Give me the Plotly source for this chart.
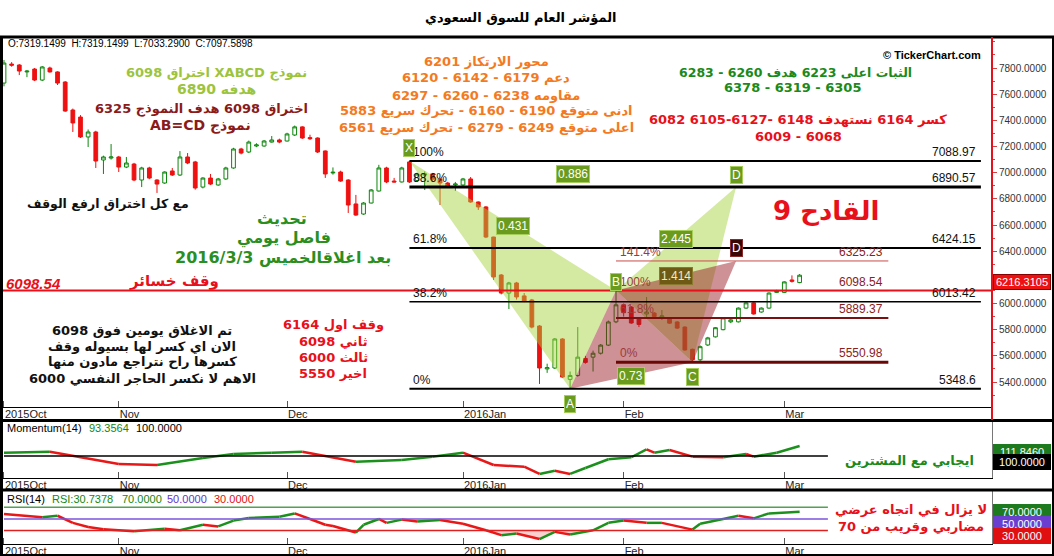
import plotly.graph_objects as go
import pandas as pd

# ---------------- data ----------------
TITLE = "المؤشر العام للسوق السعودي"
trade_dates = pd.bdate_range("2015-10-11", "2016-03-03", freq="C",
                             weekmask="Sun Mon Tue Wed Thu")
month_labels = ["2015Oct", "Nov", "Dec", "2016Jan", "Feb", "Mar"]

opens = [7685, 7830, 7823, 7770, 7792, 7708, 7800, 7770, 7693, 7479,
         7425, 7273, 7311, 7097, 7112, 7120, 7043, 7066, 6944, 7036,
         6944, 6921, 7013, 6982, 7120, 7082, 6890, 6959, 6906, 6952,
         7036, 7181, 7158, 7204, 7204, 7234, 7250, 7242, 7288, 7350,
         7268, 7265, 7166, 6998, 7005, 6944, 6761, 6684, 6768, 6860,
         7036, 6936, 6929, 7082, 6940, 6982, 6990, 6950, 6921, 6906,
         6906, 6952, 6776, 6738, 6508, 6218, 6080, 6157, 6058, 6027,
         5828, 5500, 5507, 5729, 5420, 5450, 5580, 5590, 5620, 5682,
         5860, 5990, 5973, 5890, 5920, 5927, 5897, 5890, 5859, 5820,
         5650, 5570, 5683, 5745, 5800, 5860, 5860, 5965, 6005, 5935,
         5965, 6085, 6085, 6180, 6160]
highs = [7861, 7845, 7830, 7785, 7800, 7815, 7810, 7775, 7700, 7490,
         7440, 7330, 7320, 7130, 7219, 7128, 7120, 7075, 7045, 7045,
         6950, 7010, 7036, 7165, 7150, 7090, 6965, 6990, 6960, 7045,
         7190, 7190, 7245, 7225, 7250, 7280, 7260, 7305, 7360, 7355,
         7290, 7270, 7170, 7040, 7015, 6950, 6830, 6775, 6875, 7060,
         7045, 6960, 7045, 7088.97, 7000, 7010, 6998, 6960, 6930, 6929,
         6960, 6967, 6780, 6745, 6510, 6225, 6165, 6165, 6080, 6035,
         5835, 5540, 5735, 5735, 5480, 5820, 5600, 5640, 5690, 5870,
         6098.54, 6000, 5980, 5895, 6050, 5935, 5950, 5895, 5865, 5825,
         5655, 5680, 5745, 5820, 5895, 5885, 5970, 6010, 6010, 5970,
         6085, 6105, 6170, 6215, 6225]
lows = [7660, 7810, 7746, 7730, 7700, 7700, 7765, 7670, 7465, 7311,
        7265, 7196, 7036, 6990, 7100, 7005, 7035, 6935, 6890, 6950,
        6845, 6915, 6975, 6975, 7065, 6870, 6880, 6905, 6900, 6945,
        7030, 7140, 7150, 7195, 7198, 7230, 7225, 7238, 7280, 7258,
        7250, 7150, 6960, 6985, 6930, 6692, 6670, 6678, 6765, 6855,
        6920, 6925, 6925, 6921, 6930, 6868, 6930, 6753, 6890, 6860,
        6900, 6770, 6715, 6500, 6180, 6070, 5958, 6030, 6010, 5810,
        5385, 5470, 5500, 5430, 5348.6, 5440, 5540, 5480, 5610, 5675,
        5850, 5900, 5845, 5820, 5897, 5895, 5874, 5845, 5805, 5640,
        5550.98, 5555, 5675, 5740, 5795, 5850, 5855, 5960, 5915, 5930,
        5960, 6080, 6080, 6160, 6155]
closes = [7838, 7822, 7777, 7776, 7708, 7808, 7770, 7685, 7471, 7380,
          7273, 7311, 7089, 7120, 7120, 7043, 7074, 6944, 7036, 6959,
          6913, 7005, 6982, 7120, 7074, 6883, 6959, 6913, 6952, 7036,
          7181, 7150, 7234, 7212, 7242, 7250, 7234, 7296, 7350, 7265,
          7260, 7158, 6990, 7003, 6936, 6753, 6676, 6768, 6868, 7036,
          6929, 6929, 7036, 6929, 6990, 6990, 6950, 6921, 6898, 6913,
          6952, 6776, 6738, 6508, 6203, 6080, 6157, 6050, 6019, 5820,
          5507, 5510, 5729, 5438, 5450, 5590, 5550, 5620, 5682, 5859,
          5990, 5930, 5851, 5840, 5935, 5900, 5905, 5850, 5812, 5645,
          5570, 5670, 5737, 5815, 5890, 5875, 5965, 6005, 5920, 5965,
          6080, 6095, 6165, 6170, 6216.3105]
header_ohlc = ["7319.1499", "7319.1499", "7033.2900", "7097.5898"]

# Momentum(14) (trading-day index, value)
mom_pos = [0, 6, 15, 20, 26, 30, 35, 39, 46, 52, 56, 60, 64, 68, 70, 72, 74,
           76, 79, 82, 84, 85, 87, 90, 94, 97, 98, 101, 104]
mom_val = [103.9, 105.1, 90.5, 89.3, 97.6, 102.4, 103.9, 105.1, 93.2, 95.3,
           99.2, 103.9, 89.3, 87.3, 78.7, 82.6, 78.7, 85.8, 96.1, 98.5,
           107.9, 103.9, 107.1, 99.2, 98.5, 102.4, 99.2, 103.9, 111.846]
mom_level = 100.0
mom_header = "93.3564"

# RSI(14)
rsi_pos = [0, 5, 7, 9, 11, 13, 17, 21, 23, 26, 28, 30, 32, 36, 38, 40, 42, 43,
           46, 47, 49, 50, 52, 54, 57, 60, 63, 65, 67, 70, 72, 74, 77, 79, 81,
           84, 86, 90, 91, 94, 96, 98, 100, 104]
rsi_val = [58.3, 52.8, 55.5, 43.3, 36.1, 32.2, 28.9, 33.3, 30.5, 40, 37.2,
           47.2, 51.7, 53.9, 59.5, 50, 40, 37.8, 26.7, 40, 50, 43.3, 48.9,
           45.5, 48.3, 41.7, 30.5, 22.2, 25, 15.5, 27.8, 23.3, 30.5, 43.3,
           47.2, 43.3, 43.3, 31.7, 41.7, 50, 55.5, 51.1, 59.5, 62.2]
rsi_levels = [70, 50, 30]
rsi_header = "30.7378"

# harmonic patterns (trading-day index, price)
pat_names = ["X", "A", "B", "C", "D"]
pat_pos = [53, 74, 80, 90, 95.7]
pat_val_xabcd = [7088.97, 5348.6, 6098.54, 5550.98, 6890.57]
abcd_d_val = 6325.23
ratio_labels = ["0.431", "0.73", "2.445", "0.886", "1.414"]

fib1_ratios = [1.0, 0.886, 0.618, 0.382, 0.0]
fib1_names = ["100%", "88.6%", "61.8%", "38.2%", "0%"]
fib2_ratios = [1.414, 1.0, 0.618, 0.0]
fib2_names = ["141.4%", "100%", "61.8%", "0%"]
stop_level = 6098.54
y_ticks = [5400, 5600, 5800, 6000, 6200, 6400, 6600, 6800, 7000, 7200,
           7400, 7600, 7800]
y_ticktext = ["5400.0000", "5600.0000", "5800.0000", "6000.0000", "",
              "6400.0000", "6600.0000", "6800.0000", "7000.0000", "7200.0000",
              "7400.0000", "7600.0000", "7800.0000"]

# ---------------- helpers ----------------
ML, MR, MT, MB = 2, 62, 37, 12
PW, PH = 1054 - ML - MR, 556 - MT - MB
def PX(x):
    return (x - ML) / PW
def PY(y):
    return (MT + PH - y) / PH

RLE, PDF = "\u202b", "\u202c"
AR = "DejaVu Sans"
LAT = "Liberation Sans"
RED = "#e8101a"

n = len(closes)
xs = list(range(n))
month_pos = []
prev = None
for i, d in enumerate(trade_dates):
    if d.month != prev:
        month_pos.append(i)
        prev = d.month

X_RANGE = [-0.26, 129.15]

fig = go.Figure()
fig.add_trace(go.Candlestick(
    x=xs, open=opens, high=highs, low=lows, close=closes,
    increasing=dict(line=dict(color="#0d860d", width=1), fillcolor="white"),
    decreasing=dict(line=dict(color="#ee1111", width=1), fillcolor="#ee1111"),
    whiskerwidth=0, xaxis="x", yaxis="y", showlegend=False, hoverinfo="skip"))


def colored(px_, vals, xa, ya):
    gx, gy, rx, ry = [], [], [], []
    for i in range(len(px_) - 1):
        if vals[i + 1] >= vals[i]:
            gx += [px_[i], px_[i + 1], None]; gy += [vals[i], vals[i + 1], None]
        else:
            rx += [px_[i], px_[i + 1], None]; ry += [vals[i], vals[i + 1], None]
    return [go.Scatter(x=gx, y=gy, mode="lines", line=dict(color="#1c901c", width=2.5),
                       xaxis=xa, yaxis=ya, showlegend=False, hoverinfo="skip"),
            go.Scatter(x=rx, y=ry, mode="lines", line=dict(color="#e81818", width=2.5),
                       xaxis=xa, yaxis=ya, showlegend=False, hoverinfo="skip")]

# RSI oversold fill
fig.add_trace(go.Scatter(x=rsi_pos, y=[rsi_levels[2]] * len(rsi_pos), mode="lines",
                         line=dict(width=0), xaxis="x3", yaxis="y3",
                         showlegend=False, hoverinfo="skip"))
fig.add_trace(go.Scatter(x=rsi_pos, y=[min(v, rsi_levels[2]) for v in rsi_val],
                         mode="lines", line=dict(width=0), fill="tonexty",
                         fillcolor="rgba(250,150,150,0.45)", xaxis="x3", yaxis="y3",
                         showlegend=False, hoverinfo="skip"))
for t in colored(mom_pos, mom_val, "x2", "y2"):
    fig.add_trace(t)
for t in colored(rsi_pos, rsi_val, "x3", "y3"):
    fig.add_trace(t)

shapes = []
P = list(zip(pat_pos, pat_val_xabcd))
Xp, Ap, Bp, Cp, Dp = P
D2 = (pat_pos[4], abcd_d_val)
def tri(a, b, c, fill):
    return dict(type="path", xref="x", yref="y", layer="above",
                path=f"M {a[0]},{a[1]} L {b[0]},{b[1]} L {c[0]},{c[1]} Z",
                fillcolor=fill, line=dict(width=0))
GF = "rgba(165,208,60,0.48)"
RF = "rgba(150,25,35,0.48)"
shapes += [tri(Xp, Ap, Bp, GF), tri(Bp, Cp, Dp, GF),
           tri(Ap, Bp, Cp, RF), tri(Bp, Cp, D2, RF)]

FIB1_END = 127.7
fib1_w = [2, 3, 2, 1.5, 2]
fib1_levels = [Ap[1] + r * (Xp[1] - Ap[1]) for r in fib1_ratios]
for lv, w in zip(fib1_levels, fib1_w):
    shapes.append(dict(type="line", xref="x", yref="y", layer="above",
                       x0=Xp[0], x1=FIB1_END, y0=lv, y1=lv,
                       line=dict(color="black", width=w)))
FIB2_END = 115.6
fib2_levels = [Cp[1] + r * (Bp[1] - Cp[1]) for r in fib2_ratios]
fib2_style = [("#cc4a4a", 1), ("#8b1a1a", 1), ("#7a1010", 2), ("#6a0808", 3)]
for lv, (c, w) in zip(fib2_levels, fib2_style):
    shapes.append(dict(type="line", xref="x", yref="y", layer="above",
                       x0=Bp[0], x1=FIB2_END, y0=lv, y1=lv,
                       line=dict(color=c, width=w)))
shapes.append(dict(type="line", xref="paper", yref="y", layer="above",
                   x0=0, x1=1, y0=stop_level, y1=stop_level,
                   line=dict(color=RED, width=2)))
LV_END = 107.7
shapes.append(dict(type="line", xref="x2", yref="y2", x0=0, x1=LV_END,
                   y0=mom_level, y1=mom_level, line=dict(color="black", width=1.5)))
for lv, c in zip(rsi_levels, ["#55a055", "#7a55dd", "#e02020"]):
    shapes.append(dict(type="line", xref="x3", yref="y3", x0=0, x1=LV_END,
                       y0=lv, y1=lv, line=dict(color=c, width=1.5)))

def hline(y, w, c="black"):
    return dict(type="line", xref="paper", yref="paper", x0=PX(0), x1=PX(1054),
                y0=PY(y), y1=PY(y), line=dict(color=c, width=w), layer="above")
def vline(x, y0, y1, w, c="black"):
    return dict(type="line", xref="paper", yref="paper", x0=PX(x), x1=PX(x),
                y0=PY(y0), y1=PY(y1), line=dict(color=c, width=w), layer="above")
shapes += [hline(37, 3), hline(420.5, 3), hline(490, 3), hline(555, 2),
           vline(1.5, 36, 556, 3), vline(992, 37, 420, 2, RED),
           vline(1053, 36, 556, 2)]

ann = []
def txt(s, x, y, color, size, bold=True, family=AR, xanchor="center",
        rtl=True, italic=False):
    ann.append(dict(text=(RLE + s + PDF) if rtl else s, x=PX(x), y=PY(y),
                    xref="paper", yref="paper", xanchor=xanchor, yanchor="middle",
                    showarrow=False,
                    font=dict(family=family, size=size, color=color,
                              weight="bold" if bold else "normal",
                              style="italic" if italic else "normal")))

txt(TITLE, 521, 18, "black", 13)
sp = "\u00a0\u00a0"
txt(f"O:{header_ohlc[0]}{sp}H:{header_ohlc[1]}{sp}L:{header_ohlc[2]}{sp}C:{header_ohlc[3]}",
    6, 44, "black", 10, bold=False, family=LAT, xanchor="left", rtl=False)
txt("© TickerChart.com", 983, 55, "black", 11, family=LAT, xanchor="right", rtl=False)

YG, DR, OR, GR = "#9cc43c", "#8b1a1a", "#f47a22", "#1a8a1a"
txt("نموذج XABCD اختراق 6098", 216, 73, YG, 13)
txt("هدفه 6890", 216, 89, YG, 14)
txt("اختراق 6098 هدف النموذج 6325", 201, 109, DR, 13)
txt("نموذج AB=CD", 200, 125, DR, 14)
txt("مع كل اختراق ارفع الوقف", 108, 203, "#111", 12.5)
txt("تحديث", 282, 218, "#2a8f1e", 16)
txt("فاصل يومي", 284, 238, "#2a8f1e", 16)
txt("بعد اغلاقالخميس 2016/3/3", 283, 257, "#2a8f1e", 16)
txt("وقف خسائر", 174, 281, RED, 15)
txt("6098.54", 4, 283, RED, 15, family=LAT, xanchor="left", rtl=False, italic=True)

for s, y in [("محور الارتكاز 6201", 61), ("دعم 6179 - 6142 - 6120", 78),
             ("مقاومه 6238 - 6260 - 6297", 95),
             ("ادنى متوقع 6190 - 6160 - تحرك سريع 5883", 111),
             ("اعلى متوقع 6249 - 6279 - تحرك سريع 6561", 127)]:
    txt(s, 486, y, OR, 13)
txt("الثبات اعلى 6223 هدف 6260 - 6283", 795, 72, GR, 12.5)
txt("6305 - 6319 - 6378", 792, 88, GR, 13)
txt("كسر 6164 نستهدف 6148 -6127-6105 6082", 798, 120, RED, 13)
txt("6068 - 6009", 798, 136, RED, 13)
txt("القادح 9", 826, 211, RED, 26)

for s, y in [("تم الاغلاق يومين فوق 6098", 330), ("الان اي كسر لها بسيوله وقف", 346),
             ("كسرها راح نتراجع مادون منها", 362), ("الاهم لا نكسر الحاجر النفسي 6000", 378)]:
    txt(s, 142, y, "#111", 13)
for s, y in [("وقف اول 6164", 324), ("ثاني 6098", 341), ("ثالث 6000", 357), ("اخير 5550", 373)]:
    txt(s, 333, y, RED, 13)

txt("ايجابي مع المشترين", 909, 460, GR, 13)
txt("لا يزال في اتجاه عرضي", 911, 509, RED, 13)
txt("مضاربي وقريب من 70", 911, 526, RED, 13)

for s, x, c, y in [("Momentum(14)", 5, "black", 428), (mom_header, 87, "#118811", 428),
                   (f"{mom_level:.4f}", 134, "black", 428),
                   ("RSI(14)", 5, "black", 499), ("RSI:" + rsi_header, 50, "#118811", 499),
                   (f"{rsi_levels[0]:.4f}", 120, "#118811", 499),
                   (f"{rsi_levels[1]:.4f}", 165, "#6633cc", 499),
                   (f"{rsi_levels[2]:.4f}", 212, "#e01010", 499)]:
    txt(s, x, y, c, 11, bold=False, family=LAT, xanchor="left", rtl=False)

for lv, nm, in zip(fib1_levels, fib1_names):
    ann.append(dict(text=nm, x=Xp[0], y=lv, xref="x", yref="y", xanchor="left",
                    yanchor="bottom", xshift=2, showarrow=False,
                    font=dict(family=LAT, size=12, color="#111")))
    ann.append(dict(text=f"{lv:.2f}".rstrip("0").rstrip("."), x=FIB1_END, y=lv,
                    xref="x", yref="y", xanchor="right", yanchor="bottom", xshift=-3,
                    showarrow=False, font=dict(family=LAT, size=12, color="#111")))
for lv, nm, (c, w) in zip(fib2_levels, fib2_names, fib2_style):
    ann.append(dict(text=nm, x=Bp[0], y=lv, xref="x", yref="y", xanchor="left",
                    yanchor="bottom", xshift=2, showarrow=False,
                    font=dict(family=LAT, size=12, color="#a03a3a")))
    ann.append(dict(text=f"{lv:.2f}", x=FIB2_END, y=lv,
                    xref="x", yref="y", xanchor="right", yanchor="bottom", xshift=-3,
                    showarrow=False, font=dict(family=LAT, size=12, color="#8b2020")))

def box(text, x, y, yshift, bg="#6b9b1e", border="#a6cf5a", fc="white"):
    ann.append(dict(text=text, x=x, y=y, xref="x", yref="y", yshift=yshift,
                    showarrow=False, bgcolor=bg, bordercolor=border, borderwidth=1,
                    borderpad=1, font=dict(family=LAT, size=12, color=fc)))
shift = {"X": 13, "A": -15, "B": 9, "C": -15, "D": 12}
for nm, (px_, pv) in zip(pat_names, P):
    box(nm, px_, pv, shift[nm])
box("D", D2[0], D2[1], 13, bg="#3a0606", border="#8b2a2a")
mids = [(Xp, Bp), (Ap, Cp), (Bp, Dp), (Xp, Dp), (Bp, D2)]
for lab, (p, q) in zip(ratio_labels, mids):
    if lab == "1.414":
        box(lab, (p[0] + q[0]) / 2, (p[1] + q[1]) / 2, 0, bg="#6e5a14",
            border="#8a7a30", fc="#f0e8c8")
    else:
        box(lab, (p[0] + q[0]) / 2, (p[1] + q[1]) / 2, 0)

def vbox(text, yref, y, bg, yshift=0, border=None):
    ann.append(dict(text=text, x=PX(993), y=y, xref="paper", yref=yref,
                    xanchor="left", yanchor="middle", yshift=yshift, showarrow=False,
                    bgcolor=bg, bordercolor=border or bg, borderwidth=1, borderpad=1,
                    width=54, font=dict(family=LAT, size=11, color="white")))
vbox(f"{closes[-1]:.4f}", "y", closes[-1], "#ee1111", -7, "#800")
vbox(f"{mom_val[-1]:.4f}", "y2", mom_val[-1], "#1e7a1e", -6)
vbox(f"{mom_level:.4f}", "y2", mom_level, "black", -6)
for lv, c in zip(rsi_levels, ["#1e7a1e", "#6a3fd0", "#e01010"]):
    vbox(f"{lv:.4f}", "y3", lv, c, -5)

xcommon = dict(range=X_RANGE, tickmode="array", tickvals=month_pos, ticktext=month_labels,
               ticks="inside", ticklen=6, tickcolor="#555", showline=True,
               linecolor="black", linewidth=1, showgrid=False, zeroline=False,
               ticklabelposition="outside right", ticklabelstandoff=-3,
               automargin=False,
               tickfont=dict(family=LAT, size=11, color="#222"))
fig.update_layout(
    width=1054, height=556, paper_bgcolor="white", plot_bgcolor="white",
    margin=dict(l=ML, r=MR, t=MT, b=MB, autoexpand=False), showlegend=False,
    xaxis=dict(domain=[0, 1], anchor="y", rangeslider=dict(visible=False), **xcommon),
    xaxis2=dict(domain=[0, 1], anchor="y2", **xcommon),
    xaxis3=dict(domain=[0, 1], anchor="y3", **xcommon),
    yaxis=dict(domain=[PY(407), 1], range=[5209, 8037], side="right",
               tickmode="array", tickvals=y_ticks, ticktext=y_ticktext,
               ticks="outside", ticklen=4, tickcolor="#c44", showgrid=False,
               zeroline=False, showline=False, automargin=False,
               minor=dict(ticks="outside", ticklen=2, tickcolor="#c44",
                          tickmode="linear", tick0=5300, dtick=100),
               tickfont=dict(family=LAT, size=10, color="#333")),
    yaxis2=dict(domain=[PY(478), PY(421)], range=[73.9, 141.5], side="right",
                showticklabels=False, showgrid=False, zeroline=False, automargin=False,
                showline=True, linecolor="#777", ticks=""),
    yaxis3=dict(domain=[PY(544), PY(491)], range=[7, 98], side="right",
                showticklabels=False, showgrid=False, zeroline=False, automargin=False,
                showline=True, linecolor="#777", ticks=""),
    shapes=shapes, annotations=ann,
)
fig.write_html("out.html", config={"displayModeBar": False},
               post_script="document.body.style.margin='0';document.body.style.overflow='hidden';")
